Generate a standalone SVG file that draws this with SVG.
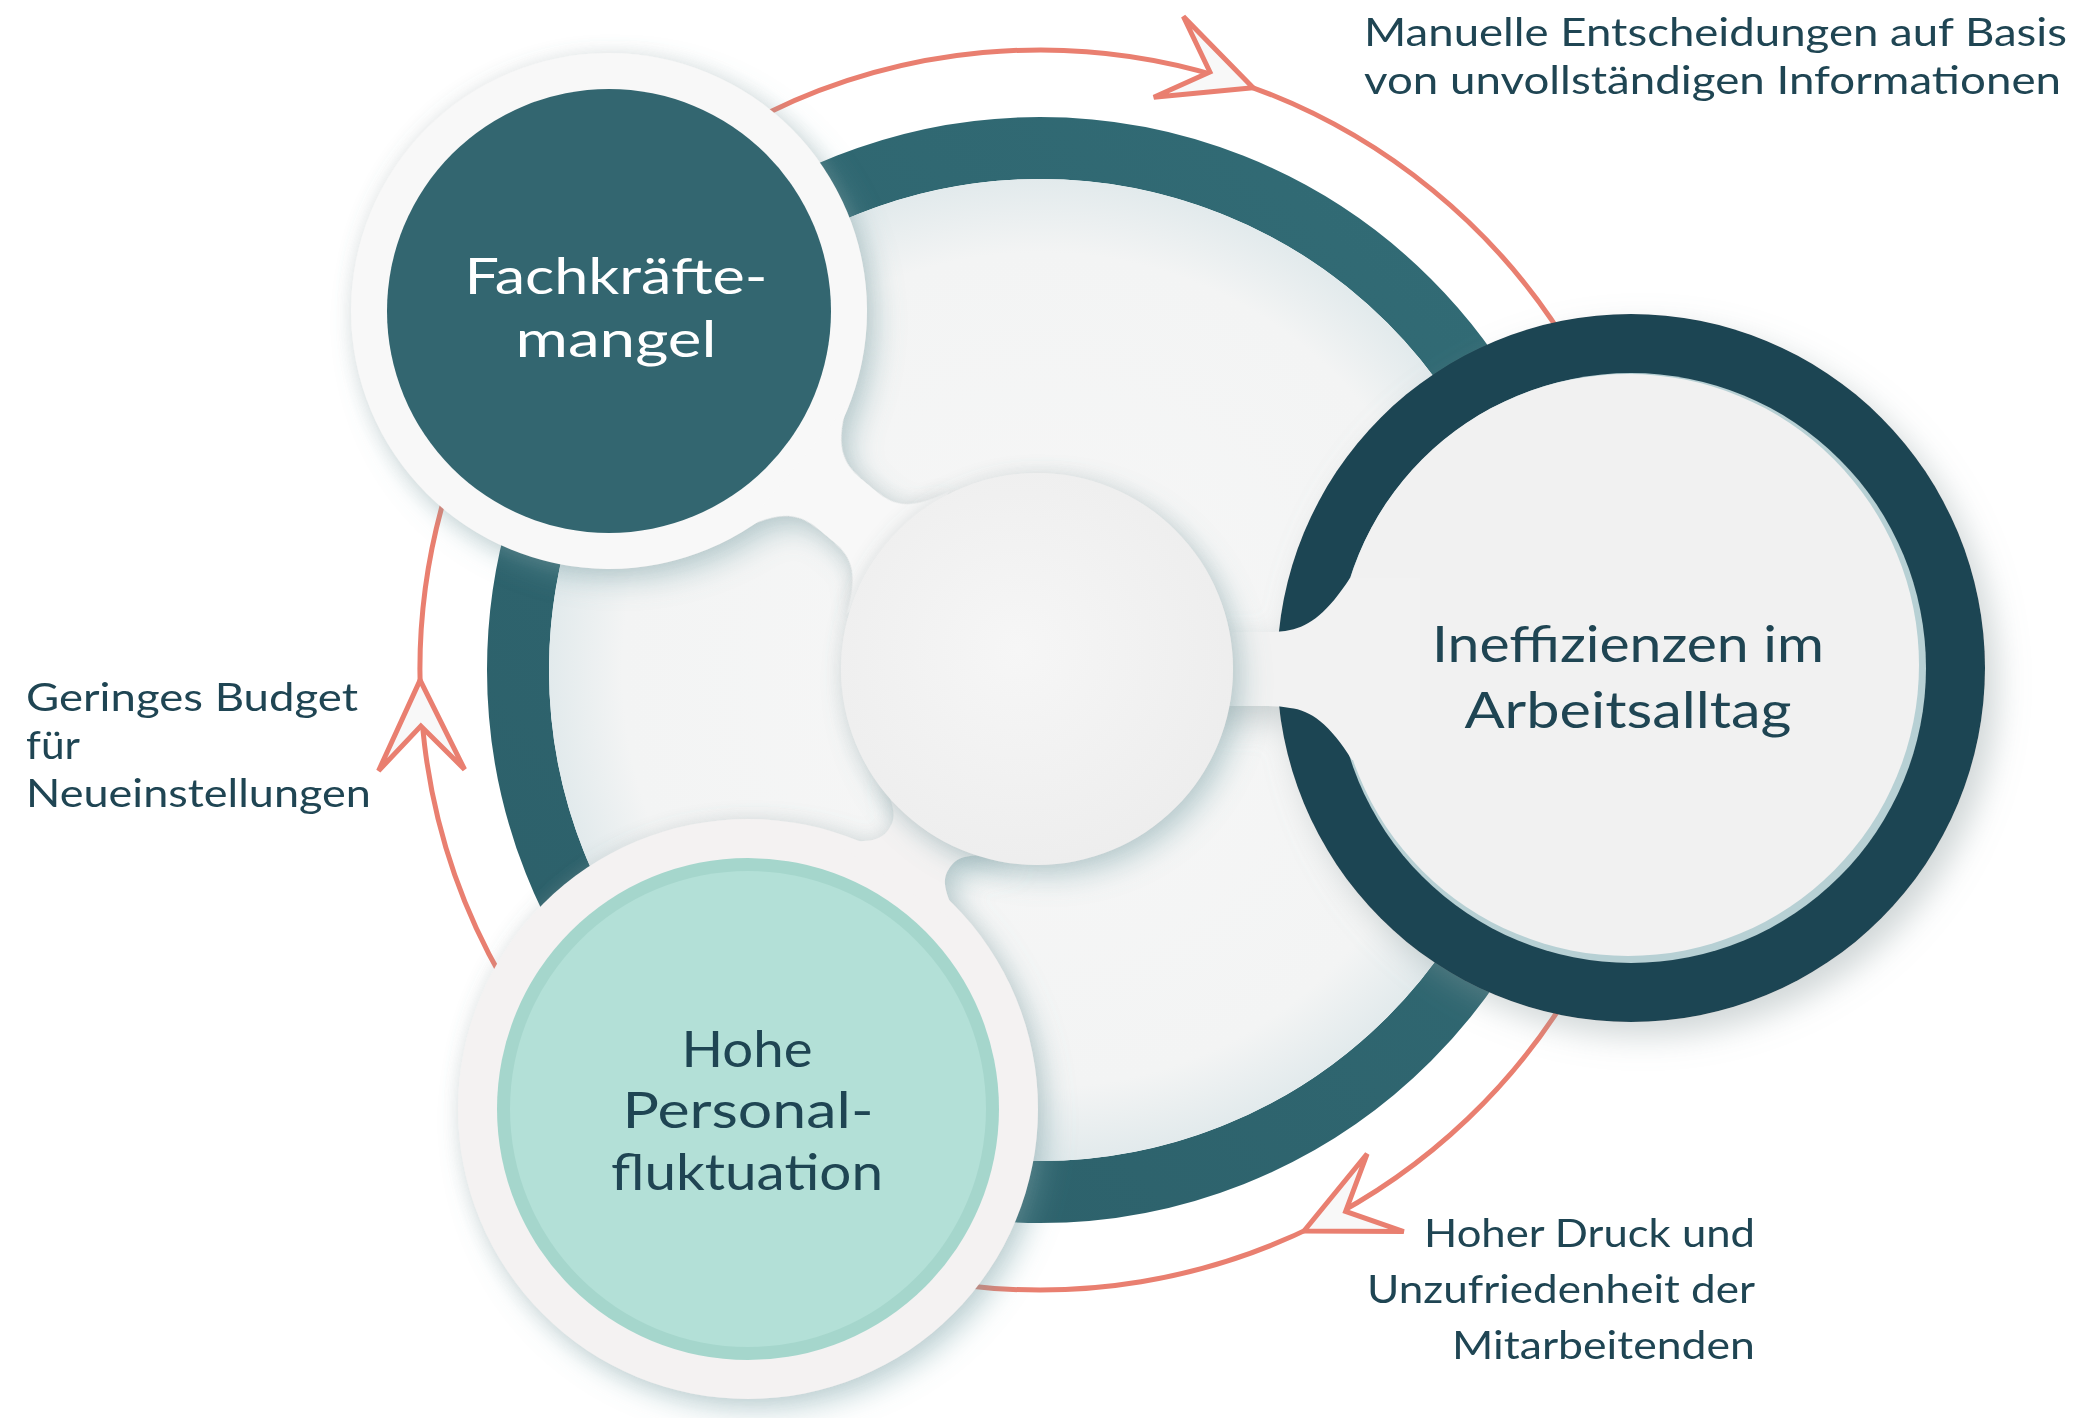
<svg xmlns="http://www.w3.org/2000/svg" width="2075" height="1418" viewBox="0 0 2075 1418">
<style>
.lbl{font-family:Lato,"Open Sans","Liberation Sans",sans-serif;font-size:39px;fill:#1f4553}
.node{font-family:Lato,"Open Sans","Liberation Sans",sans-serif;font-size:50px;text-anchor:middle}
.arc{fill:none;stroke:#e97f70;stroke-width:5;stroke-linecap:round}
.head{fill:#f8f8f8;stroke:#e97f70;stroke-width:5;stroke-linejoin:miter}
</style>
<defs>
<filter id="sh" x="-30%" y="-30%" width="160%" height="160%">
<feGaussianBlur in="SourceAlpha" stdDeviation="14" result="b"/>
<feOffset in="b" dx="10" dy="12" result="o"/>
<feFlood flood-color="#6f9ea4" flood-opacity="0.4"/>
<feComposite in2="o" operator="in" result="s"/>
<feGaussianBlur in="SourceAlpha" stdDeviation="9" result="b2"/>
<feFlood flood-color="#a0a0a0" flood-opacity="0.22"/>
<feComposite in2="b2" operator="in" result="s2"/>
<feMerge><feMergeNode in="s2"/><feMergeNode in="s"/><feMergeNode in="SourceGraphic"/></feMerge>
</filter>
<filter id="sh2" x="-30%" y="-30%" width="160%" height="160%">
<feGaussianBlur in="SourceAlpha" stdDeviation="16" result="b"/>
<feOffset in="b" dx="12" dy="14" result="o"/>
<feFlood flood-color="#8a9a9c" flood-opacity="0.4"/>
<feComposite in2="o" operator="in" result="s"/>
<feMerge><feMergeNode in="s"/><feMergeNode in="SourceGraphic"/></feMerge>
</filter>
<radialGradient id="inner" cx="0.5" cy="0.5" r="0.5">
<stop offset="0" stop-color="#f7f7f7"/>
<stop offset="0.85" stop-color="#f3f4f4"/>
<stop offset="1" stop-color="#e2eaec"/>
</radialGradient>
<linearGradient id="ringG" x1="0" y1="1" x2="1" y2="0">
<stop offset="0" stop-color="#2c5f69"/>
<stop offset="1" stop-color="#326c76"/>
</linearGradient>
<radialGradient id="centerG" cx="0.45" cy="0.45" r="0.6">
<stop offset="0" stop-color="#f6f6f6"/>
<stop offset="1" stop-color="#ededed"/>
</radialGradient>
<path id="ah" d="M0,0 L-90,-43 L-46,0 L-90,43 Z"/>
</defs>
<rect width="2075" height="1418" fill="#ffffff"/>

<g id="connectors">
<path class="arc" d="M768.2,112.7 A620,620 0 0 1 1576.9,360"/>
<path class="arc" d="M503.1,980 A620,620 0 0 1 444,499.1"/>
<path class="arc" d="M1576.9,980 A620,620 0 0 1 964.4,1285.4"/>
<use href="#ah" class="head" transform="translate(1253.1,87.8) rotate(20.1)"/>
<use href="#ah" class="head" transform="translate(420.1,680.1) rotate(269.07)"/>
<use href="#ah" class="head" transform="translate(1304,1231) rotate(154.8)"/>
</g>

<g id="cycle-ring">
<circle cx="1040" cy="670" r="522" fill="none" stroke="url(#ringG)" stroke-width="62"/>
<circle cx="1040" cy="670" r="491" fill="url(#inner)"/>
</g>

<g id="node-fachkraefte-halo" filter="url(#sh)">
<circle cx="609" cy="311" r="258" fill="#f8f8f8"/>
<path transform="translate(609,311) rotate(39.9) translate(243,0)" fill="#f8f8f8" d="M0,-80 C20,-36 38,-33 62,-33 L74,-33 C98,-33 114,-36 134,-80 L134,80 C114,36 98,33 74,33 L62,33 C38,33 20,36 0,80 Z"/>
</g>

<g id="node-hohe-halo" filter="url(#sh)">
<circle cx="748" cy="1109" r="290" fill="#f4f2f2"/>
<path transform="translate(748,1109) rotate(-56.7) translate(270,0)" fill="#f4f2f2" d="M0,-80 C20,-40 30,-36 42,-36 C54,-36 64,-40 84,-80 L84,80 C64,40 54,36 42,36 C30,36 20,40 0,80 Z"/>
</g>

<g id="node-ineffizienzen" filter="url(#sh2)">
<circle cx="1631" cy="668" r="354" fill="#1f4553"/>
<circle cx="1631" cy="668" r="295" fill="#b7d0d4"/>
<circle cx="1628" cy="665" r="291" fill="#f1f1f1"/>
<path fill="#f2f2f2" d="M1200,632 L1268,632 Q1281,632 1290,630 C1310,626 1328,612 1350,578 L1420,578 L1420,760 L1352,760 C1330,724 1310,710 1290,708 Q1281,706 1268,706 L1200,706 Z"/>
</g>

<g id="center" filter="url(#sh)">
<circle cx="1037" cy="669" r="196" fill="url(#centerG)"/>
</g>

<g id="node-fachkraefte">
<circle cx="609" cy="311" r="222" fill="#336670"/>
<text class="node" fill="#ffffff" x="616" y="294" textLength="303" lengthAdjust="spacingAndGlyphs">Fachkräfte-</text>
<text class="node" fill="#ffffff" x="616" y="357" textLength="201" lengthAdjust="spacingAndGlyphs">mangel</text>
</g>

<g id="node-hohe">
<circle cx="748" cy="1109" r="251" fill="#a5d6cc"/>
<circle cx="748" cy="1109" r="238" fill="#b3e0d7"/>
<text class="node" fill="#1f4553" x="747" y="1067" textLength="131" lengthAdjust="spacingAndGlyphs">Hohe</text>
<text class="node" fill="#1f4553" x="748" y="1128" textLength="251" lengthAdjust="spacingAndGlyphs">Personal-</text>
<text class="node" fill="#1f4553" x="747" y="1190" textLength="272" lengthAdjust="spacingAndGlyphs">fluktuation</text>
</g>

<g id="node-ineffizienzen-text">
<text class="node" fill="#1f4553" x="1628" y="662" textLength="392" lengthAdjust="spacingAndGlyphs">Ineffizienzen im</text>
<text class="node" fill="#1f4553" x="1628" y="728" textLength="327" lengthAdjust="spacingAndGlyphs">Arbeitsalltag</text>
</g>

<g id="labels">
<text class="lbl" x="1364" y="46" textLength="703" lengthAdjust="spacingAndGlyphs">Manuelle Entscheidungen auf Basis</text>
<text class="lbl" x="1364" y="94" textLength="697" lengthAdjust="spacingAndGlyphs">von unvollständigen Informationen</text>
<text class="lbl" x="26" y="711" textLength="332" lengthAdjust="spacingAndGlyphs">Geringes Budget</text>
<text class="lbl" x="26" y="759" textLength="54" lengthAdjust="spacingAndGlyphs">für</text>
<text class="lbl" x="26" y="807" textLength="345" lengthAdjust="spacingAndGlyphs">Neueinstellungen</text>
<text class="lbl" x="1755" y="1247" text-anchor="end" textLength="331" lengthAdjust="spacingAndGlyphs">Hoher Druck und</text>
<text class="lbl" x="1755" y="1303" text-anchor="end" textLength="388" lengthAdjust="spacingAndGlyphs">Unzufriedenheit der</text>
<text class="lbl" x="1755" y="1359" text-anchor="end" textLength="303" lengthAdjust="spacingAndGlyphs">Mitarbeitenden</text>
</g>
</svg>
